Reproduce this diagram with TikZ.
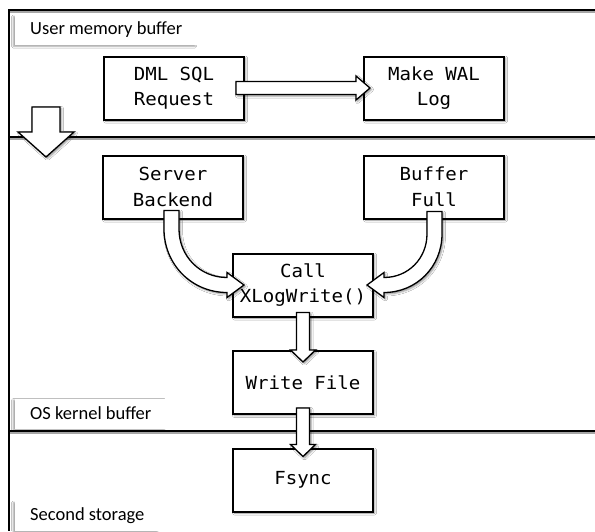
\documentclass[tikz,border=0pt]{standalone}
\usepackage{fontspec}
\setmainfont{Carlito}
\newfontfamily\codefont[FakeStretch=1.06]{DejaVu Sans Mono}
\usetikzlibrary{calc,shadows.blur}

\tikzset{
  softshadow/.style={blur shadow={shadow xshift=1.5pt, shadow yshift=-1.5pt,
      shadow blur radius=2pt, shadow opacity=45}},
  stepbox/.style={draw=black, line width=2pt, fill=white, softshadow,
      minimum width=140pt, minimum height=63pt, inner sep=0pt, align=center,
      font=\codefont\fontsize{18}{25.5}\selectfont},
  zonelabel/.style={fill=white, anchor=west, minimum height=30pt,
      inner xsep=15pt, inner ysep=0pt, font=\fontsize{18.5}{21}\selectfont,
      blur shadow={shadow xshift=-2pt, shadow yshift=-1.5pt,
      shadow blur radius=1.5pt, shadow opacity=35}},
  blockarrow/.style={draw=black, line width=1.3pt, fill=white, line join=miter,
      softshadow},
  zoneline/.style={draw=black, line width=1.6pt},
  zoneshade/.style={draw=black!35, line width=1.5pt},
}

% vertical hollow block arrow: #1 shaft top, #2 head base, #3 tip
\newcommand{\vblockarrow}[3]{%
  \path[blockarrow] ($(#1)+(-6.5,0)$) -- ($(#2)+(-6.5,0)$) -- ($(#2)+(-12.5,0)$)
    -- (#3) -- ($(#2)+(12.5,0)$) -- ($(#2)+(6.5,0)$) -- ($(#1)+(6.5,0)$) -- cycle;}

\begin{document}
\begin{tikzpicture}[x=1pt,y=-1pt]
  \useasboundingbox[fill=white] (0,0) rectangle (595,531);

  % zone separators and frame
  \draw[zoneshade] (10,11.8) -- (595,11.8);
  \draw[zoneshade] (10,138.8) -- (595,138.8);
  \draw[zoneshade] (10,432.8) -- (595,432.8);
  \draw[zoneline, line width=2.2pt] (8,10) -- (595,10);
  \draw[zoneline] (9,137) -- (595,137);
  \draw[zoneline] (9,431) -- (595,431);
  \draw[zoneline, line width=2pt] (9,9) -- (9,531);

  % zone labels
  \node[zonelabel] (zuser) at (15,30) {User memory buffer};
  \node[zonelabel] (zos) at (15,413.5) {OS kernel buffer};
  \node[zonelabel] (zdisk) at (15,516) {Second storage};

  % steps
  \node[stepbox] (dml) at (174,88) {DML SQL\\Request};
  \node[stepbox] (wal) at (434,88) {Make WAL\\Log};
  \node[stepbox] (sb)  at (173,187) {Server\\Backend};
  \node[stepbox] (bf)  at (434,187) {Buffer\\Full};
  \node[stepbox] (call) at (303,285) {Call\\XLogWrite()};
  \node[stepbox] (wf)  at (303,382.5) {Write File};
  \node[stepbox] (fs)  at (303,480) {Fsync};

  % transition between memory zones
  \path[blockarrow] (32,107) -- (60,107) -- (60,132) -- (74,132) -- (46,157)
    -- (18,132) -- (32,132) -- cycle;

  % DML request -> WAL log
  \path[blockarrow] ($(dml.east)+(-9,-6.5)$) -- ($(wal.west)+(-7,-6.5)$)
    -- ($(wal.west)+(-7,-12)$) -- ($(wal.west)+(7,0)$) -- ($(wal.west)+(-7,12)$)
    -- ($(wal.west)+(-7,6.5)$) -- ($(dml.east)+(-9,6.5)$) -- cycle;

  % server backend -> XLogWrite
  \path[blockarrow] ($(sb.south)+(-9,-9)$) -- ($(sb.south)+(-9,9.5)$)
    .. controls ($(sb.south)+(-9,44.85)$) and ($(call.west)+(-40.35,7.5)$)
    .. ($(call.west)+(-5,7.5)$) -- ($(call.west)+(-5,12.5)$)
    -- ($(call.west)+(12,0)$) -- ($(call.west)+(-5,-12.5)$)
    -- ($(call.west)+(-5,-7.5)$)
    .. controls ($(call.west)+(-32.06,-7.5)$) and ($(sb.south)+(6,36.56)$)
    .. ($(sb.south)+(6,9.5)$) -- ($(sb.south)+(6,-9)$) -- cycle;

  % buffer full -> XLogWrite
  \path[blockarrow] ($(bf.south)+(-7,-8)$) -- ($(bf.south)+(-7,14.5)$)
    .. controls ($(bf.south)+(-7,38.8)$) and ($(call.east)+(34.3,-7.5)$)
    .. ($(call.east)+(10,-7.5)$) -- ($(call.east)+(10,-12.5)$)
    -- ($(call.east)+(-7,0)$) -- ($(call.east)+(10,12.5)$)
    -- ($(call.east)+(10,7.5)$)
    .. controls ($(call.east)+(42.59,7.5)$) and ($(bf.south)+(8,47.09)$)
    .. ($(bf.south)+(8,14.5)$) -- ($(bf.south)+(8,-8)$) -- cycle;

  % XLogWrite -> write file -> fsync
  \coordinate (a1top) at ($(call.south)+(0,-5)$);
  \coordinate (a1tip) at ($(wf.north)+(0,12)$);
  \vblockarrow{a1top}{wf.north}{a1tip}
  \coordinate (a2top) at ($(wf.south)+(0,-7)$);
  \coordinate (a2base) at ($(fs.north)+(0,-3)$);
  \coordinate (a2tip) at ($(fs.north)+(0,9)$);
  \vblockarrow{a2top}{a2base}{a2tip}
\end{tikzpicture}
\end{document}
